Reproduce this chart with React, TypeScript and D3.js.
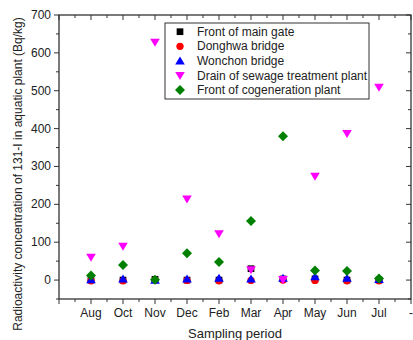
import React from "react";
import * as d3 from "d3";

const categories = ["Aug", "Oct", "Nov", "Dec", "Feb", "Mar", "Apr", "May", "Jun", "Jul", "-"];
const mainGate = [0, 0, 2, 0, 0, 30, 3, 3, 0, 0];
const donghwa = [-2, -2, 0, -1, -2, -1, 0, -1, -2, -2];
const wonchon = [1, 3, 0, 3, 5, 3, 5, 9, 5, 2];
const drain = [60, 89, 628, 214, 122, 27, 1, 274, 387, 509];
const cogeneration = [12, 40, 1, 71, 48, 156, 380, 25, 24, 4];
const yTicks = [0, 100, 200, 300, 400, 500, 600, 700];
const seriesNames = [
  "Front of main gate",
  "Donghwa bridge",
  "Wonchon bridge",
  "Drain of sewage treatment plant",
  "Front of cogeneration plant",
];

const W = 413, H = 340;
const L = 59, R = 411, T = 15, B = 299;
const FONT = "'Liberation Sans', Arial, sans-serif";
const AX = "#333";

export default function App() {
  const x = d3.scaleLinear().domain([0, 11]).range([L, R]);
  const y = d3.scaleLinear().domain([-50, 700]).range([B, T]);
  const minorY = d3.range(-50, 701, 50);
  const minorX = d3.range(0, 11.01, 0.5);

  const sq = d3.symbol().type(d3.symbolSquare).size(45)();
  const circ = d3.symbol().type(d3.symbolCircle).size(42)();
  const tri = "M0,-4.5L4.8,3.6L-4.8,3.6Z";
  const triDown = "M0,4.5L4.8,-3.6L-4.8,-3.6Z";
  const diamond = "M0,-5L5,0L0,5L-5,0Z";

  const series = [
    { data: mainGate, path: sq, color: "#000000" },
    { data: donghwa, path: circ, color: "#ff0000" },
    { data: wonchon, path: tri, color: "#0000ff" },
    { data: drain, path: triDown, color: "#ff00ff" },
    { data: cogeneration, path: diamond, color: "#008000" },
  ];

  const legX = 165, legY = 23, legW = 204, legH = 76;

  return (
    <svg width={W} height={H} style={{ position: "absolute", left: 0, top: 0, background: "#fff" }}>
      <rect x={0} y={0} width={W} height={H} fill="#fff" />
      {/* frame */}
      <rect x={L} y={T} width={R - L} height={B - T} fill="none" stroke={AX} strokeWidth={1.3} />
      {/* left ticks outward */}
      {minorY.map((v) => {
        const major = v % 100 === 0;
        return (
          <g key={"ly" + v}>
            <line x1={L} x2={L - (major ? 5 : 3)} y1={y(v)} y2={y(v)} stroke={AX} strokeWidth={1} />
            <line x1={R} x2={R - (major ? 5 : 3)} y1={y(v)} y2={y(v)} stroke={AX} strokeWidth={1} />
          </g>
        );
      })}
      {yTicks.map((v) => (
        <text key={"yt" + v} x={L - 8} y={y(v) + 4} textAnchor="end" fontFamily={FONT} fontSize={12} fill="#222">
          {v}
        </text>
      ))}
      {minorX.map((v) => {
        const major = Number.isInteger(v);
        return (
          <g key={"bx" + v}>
            <line x1={x(v)} x2={x(v)} y1={B} y2={B + (major ? 5 : 3)} stroke={AX} strokeWidth={1} />
            <line x1={x(v)} x2={x(v)} y1={T} y2={T + (major ? 5 : 3)} stroke={AX} strokeWidth={1} />
          </g>
        );
      })}
      {categories.map((c, i) => (
        <text key={"xt" + c} x={x(i + 1)} y={317} textAnchor="middle" fontFamily={FONT} fontSize={12} fill="#222">
          {c}
        </text>
      ))}
      <text x={235} y={338} textAnchor="middle" fontFamily={FONT} fontSize={13} fill="#222">
        Sampling period
      </text>
      <text
        transform={`translate(22,${(T + B) / 2 + 17}) rotate(-90)`}
        textAnchor="middle"
        fontFamily={FONT}
        fontSize={12}
        fill="#222"
      >
        Radioactivity concentration of 131-I in aquatic plant (Bq/kg)
      </text>
      {/* markers */}
      {series.map((s, si) => (
        <g key={"s" + si}>
          {s.data.map((v, i) => (
            <path key={i} d={s.path} transform={`translate(${x(i + 1)},${y(v)})`} fill={s.color} />
          ))}
        </g>
      ))}
      {/* legend */}
      <rect x={legX} y={legY} width={legW} height={legH} fill="#fff" stroke={AX} strokeWidth={1} />
      {seriesNames.map((n, i) => {
        const cy = 31.7 + i * 14.6;
        return (
          <g key={"lg" + i}>
            <path d={series[i].path} transform={`translate(180,${cy})`} fill={series[i].color} />
            <text x={197} y={cy + 4} fontFamily={FONT} fontSize={12} fill="#222">
              {n}
            </text>
          </g>
        );
      })}
    </svg>
  );
}
